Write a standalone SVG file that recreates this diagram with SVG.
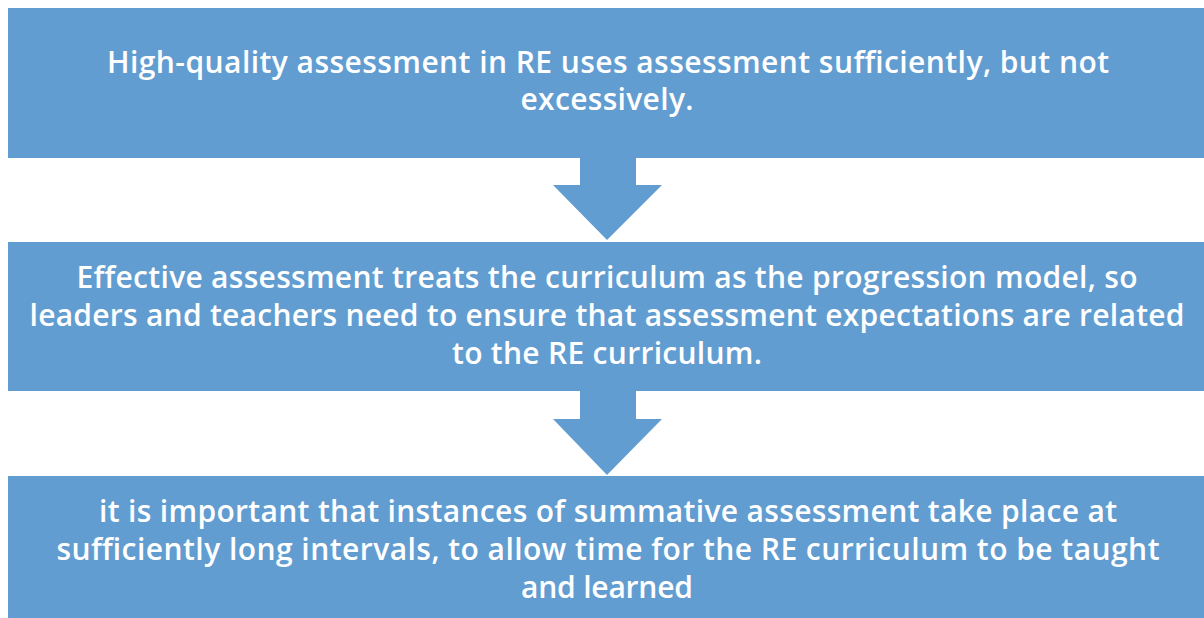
<svg xmlns="http://www.w3.org/2000/svg" width="1204" height="618" viewBox="0 0 1204 618">
<style>
.box{fill:#629DD1;}
.arrow{fill:#629DD1;}
text{font-family:"Open Sans",Lato,"Liberation Sans",sans-serif;font-weight:600;font-size:30px;fill:#FFFFFF;text-anchor:middle;}
</style>
<rect width="1204" height="618" fill="#FFFFFF"/>
<g id="connectors">
<polygon class="arrow" points="580,157 636,157 636,185 662,185 607,240 553,185 580,185"/>
<polygon class="arrow" points="580,391 636,391 636,419 662,419 607,475 553,419 580,419"/>
</g>
<g id="node1">
<rect class="box" x="8" y="8" width="1198" height="150"/>
<text x="608" y="73" textLength="1002">High-quality assessment in RE uses assessment sufficiently, but not</text>
<text x="607" y="110" textLength="173">excessively.</text>
</g>
<g id="node2">
<rect class="box" x="8" y="242" width="1198" height="149"/>
<text x="607" y="288" textLength="1061">Effective assessment treats the curriculum as the progression model, so</text>
<text x="607" y="326" textLength="1155">leaders and teachers need to ensure that assessment expectations are related</text>
<text x="607" y="364" textLength="310">to the RE curriculum.</text>
</g>
<g id="node3">
<rect class="box" x="8" y="476" width="1198" height="150"/>
<text x="608" y="522" textLength="1018">it is important that instances of summative assessment take place at</text>
<text x="608" y="560" textLength="1103">sufficiently long intervals, to allow time for the RE curriculum to be taught</text>
<text x="607" y="598" textLength="172">and learned</text>
</g>
</svg>
